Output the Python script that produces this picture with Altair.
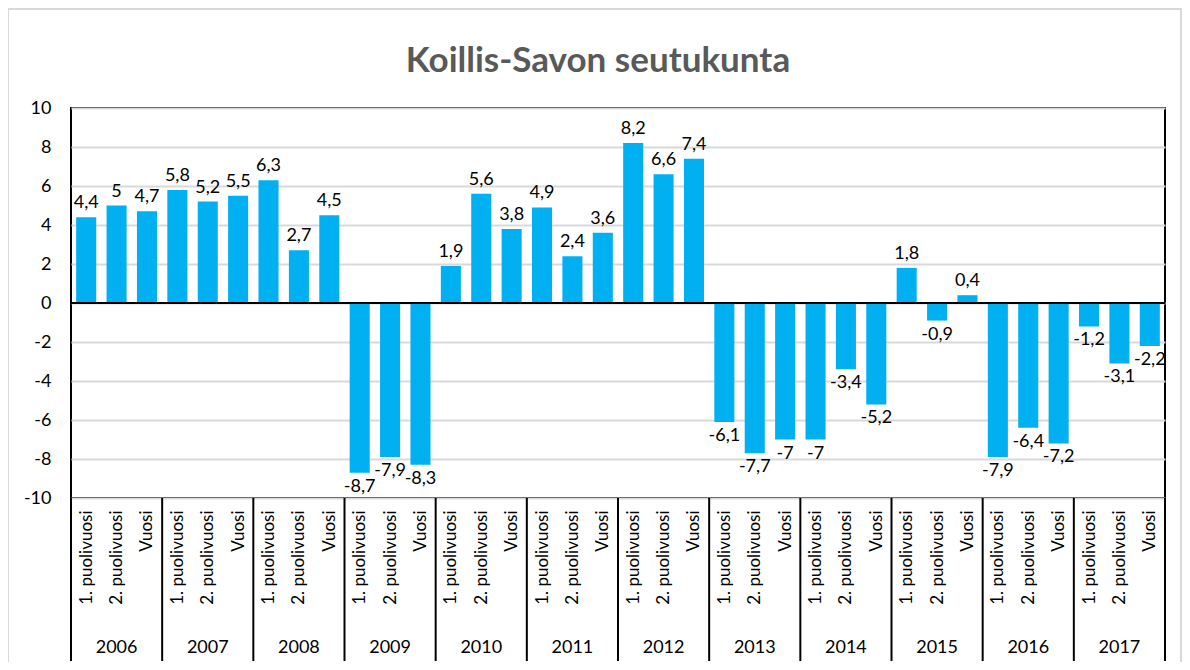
import altair as alt
import pandas as pd

title_text = "Koillis-Savon seutukunta"
years = ["2006", "2007", "2008", "2009", "2010", "2011",
         "2012", "2013", "2014", "2015", "2016", "2017"]
subcats = ["1. puolivuosi", "2. puolivuosi", "Vuosi"]
values = [
    4.4, 5.0, 4.7,
    5.8, 5.2, 5.5,
    6.3, 2.7, 4.5,
    -8.7, -7.9, -8.3,
    1.9, 5.6, 3.8,
    4.9, 2.4, 3.6,
    8.2, 6.6, 7.4,
    -6.1, -7.7, -7.0,
    -7.0, -3.4, -5.2,
    1.8, -0.9, 0.4,
    -7.9, -6.4, -7.2,
    -1.2, -3.1, -2.2,
]

rows = []
for i, v in enumerate(values):
    rows.append({
        "idx": i,
        "x0": i - 0.33,
        "x1": i + 0.33,
        "year": years[i // 3],
        "sub": subcats[i % 3],
        "value": v,
        "label": (f"{v:g}").replace(".", ","),
    })
df = pd.DataFrame(rows)
sep_df = pd.DataFrame({"pos": [g * 3 - 0.5 for g in range(len(years) + 1)]})
year_df = pd.DataFrame({"mid": [g * 3 + 1 for g in range(len(years))], "year": years})
frame_df = pd.DataFrame({"title": [title_text]})

W, H = 1094, 390
FONT = "Lato"
xscale = alt.Scale(domain=[-0.5, 35.5], nice=False, zero=False)
yscale = alt.Scale(domain=[-10, 10], nice=False)

label_expr = ("datum.value % 3 == 0 ? '1. puolivuosi' : "
              "(datum.value % 3 == 1 ? '2. puolivuosi' : 'Vuosi')")

xaxis = alt.Axis(values=list(range(36)), labelExpr=label_expr, title="",
                 labelAngle=-90, ticks=False, domain=False, grid=False,
                 labelPadding=12, labelFontSize=17, labelFont=FONT,
                 labelColor="#000000", labelOverlap=False, labelBound=False)
yaxis = alt.Axis(values=list(range(-10, 11, 2)), ticks=False, domain=False, title="",
                 labelExpr="toString(datum.value)",
                 gridColor="#d9d9d9", gridWidth=2, labelPadding=20,
                 labelFontSize=18, labelFont=FONT, labelColor="#000000",
                 labelOverlap=False, labelBound=False)

bars = alt.Chart(df).mark_bar(color="#00B0F0").encode(
    x=alt.X("x0:Q", scale=xscale, axis=xaxis),
    x2="x1:Q",
    y=alt.Y("value:Q", scale=yscale, axis=yaxis),
    y2=alt.datum(0),
)

pos_labels = alt.Chart(df).transform_filter("datum.value >= 0").mark_text(
    baseline="bottom", dy=-5, fontSize=18, font=FONT, color="#000000"
).encode(x=alt.X("idx:Q", scale=xscale, axis=xaxis),
         y=alt.Y("value:Q", scale=yscale, axis=yaxis), text="label:N")

neg_labels = alt.Chart(df).transform_filter("datum.value < 0").mark_text(
    baseline="top", dy=5, fontSize=18, font=FONT, color="#000000"
).encode(x=alt.X("idx:Q", scale=xscale, axis=xaxis),
         y=alt.Y("value:Q", scale=yscale, axis=yaxis), text="label:N")

zero = alt.Chart(df).mark_rule(color="#000000", strokeWidth=2).encode(
    y=alt.YDatum(0, scale=yscale, axis=yaxis))

seps = alt.Chart(sep_df).mark_rule(color="#000000", strokeWidth=2).encode(
    x=alt.X("pos:Q", scale=xscale, axis=xaxis), y=alt.value(H), y2=alt.value(H + 163)
)

year_text = alt.Chart(year_df).mark_text(
    baseline="middle", fontSize=18, font=FONT, color="#000000"
).encode(x=alt.X("mid:Q", scale=xscale, axis=xaxis), y=alt.value(H + 150), text="year:N")

frame = alt.Chart(frame_df).mark_rect(fill="transparent", stroke="#d9d9d9", strokeWidth=2).encode(
    x=alt.value(-63), x2=alt.value(W + 16), y=alt.value(-99), y2=alt.value(H + 175)
)

title = alt.Chart(frame_df).mark_text(
    fontSize=35, font=FONT, fontWeight="bold", color="#595959",
    align="center", baseline="alphabetic"
).encode(x=alt.value(527), y=alt.value(-36), text="title:N")

chart = alt.layer(frame, bars, zero, pos_labels, neg_labels, seps, year_text, title).properties(
    width=W, height=H,
    autosize=alt.AutoSizeParams(type="none"),
    padding={"left": 63, "top": 100, "right": 17, "bottom": 164},
).configure_view(stroke="#000000", strokeWidth=2)

chart.save("out.html", embed_options={"renderer": "svg", "actions": False})
